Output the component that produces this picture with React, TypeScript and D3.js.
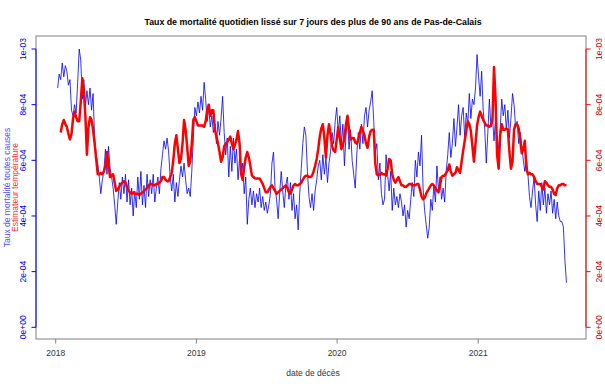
import * as d3 from "d3";

// Série quotidienne lissée sur 7 jours, valeurs en unités de 1e-4, un point tous les 4 jours
const tauxStart = "2018-01-06";
const estimStart = "2018-01-14";
const stepDays = 4;

const tauxMortalite = [
  8.6, 9.1, 8.9, 9.5, 9.0, 9.4, 9.2, 8.7, 8.9, 7.8,
  7.6, 8.0, 7.7, 8.8, 10.0, 9.6, 8.2, 8.9, 7.9, 8.5,
  8.0, 8.6, 7.8, 8.4, 6.8, 6.2, 5.9, 5.4, 4.8, 5.3,
  5.6, 6.4, 5.5, 6.5, 5.7, 5.4, 5.0, 4.4, 3.7, 4.5,
  5.2, 4.6, 5.4, 4.8, 5.5, 4.5, 5.3, 4.4, 5.0, 4.0,
  4.9, 4.3, 5.4, 4.6, 5.6, 4.4, 5.1, 4.3, 5.5, 4.7,
  5.3, 4.8, 5.5, 4.5, 5.0, 5.4, 4.8, 5.7, 6.2, 6.7,
  6.4, 6.8, 6.3, 5.4, 4.9, 5.5, 4.5, 5.2, 4.7, 5.3,
  5.8, 5.4, 5.9, 5.3, 4.8, 5.0, 4.7, 5.6, 6.8, 7.9,
  7.6, 8.1, 7.7, 8.3, 7.8, 8.8, 8.2, 7.4, 7.9, 7.2,
  7.6, 7.0, 7.3, 6.6, 7.4, 6.9, 7.5, 8.3, 7.0, 6.2,
  6.8, 5.4, 6.5, 5.6, 6.8, 5.9, 6.4, 5.3, 6.1, 5.5,
  5.9, 4.8, 5.4, 3.7, 4.6, 5.0, 4.4, 4.9, 4.3, 4.8,
  4.5, 5.0, 4.3, 4.7, 4.2, 4.5, 4.1, 4.4, 4.8, 5.9,
  6.3, 5.0, 4.6, 3.9, 4.8, 5.6, 4.9, 4.3, 5.1, 5.4,
  4.6, 5.2, 4.2, 4.8, 3.9, 4.4, 3.5, 4.8, 5.7, 6.6,
  7.2, 6.9, 5.6, 4.7, 4.3, 4.8, 4.2, 4.9, 5.3, 5.8,
  6.0, 5.3, 6.2, 5.5, 6.1, 5.2, 5.9, 6.3, 7.0, 6.6,
  7.4, 7.9, 7.0, 7.6, 6.6, 7.3, 5.8, 6.9, 7.5, 6.4,
  7.1, 6.0, 5.5, 5.0, 6.2, 7.0, 6.4, 7.3, 6.6, 7.6,
  7.9, 7.2, 7.8, 8.1, 8.5, 7.4, 6.3, 6.6, 5.3, 5.9,
  4.8, 4.4, 4.6, 6.2, 5.5, 4.9, 5.6, 4.2, 5.0, 4.4,
  4.7, 4.3, 4.8, 4.5, 4.0, 4.4, 3.6, 4.2, 3.9, 4.6,
  5.2, 4.7, 6.0, 5.4, 6.3, 5.8, 6.9, 5.0, 4.2, 3.7,
  3.2, 3.6, 4.6, 4.2, 5.1, 4.5, 5.8, 4.9, 5.4, 4.6,
  5.0, 4.5, 5.6, 6.2, 7.0, 6.1, 6.6, 7.5, 6.5, 7.2,
  8.0, 6.9, 7.6, 7.9, 6.8, 7.7, 7.3, 8.4, 7.5, 8.2,
  8.0, 8.6, 9.8, 9.0, 8.3, 9.2, 7.8, 7.1, 5.9, 7.0,
  8.2, 7.2, 7.6, 6.7, 7.5, 6.9, 6.4, 7.1, 8.2, 7.6,
  8.0, 7.1, 7.8, 6.8, 7.5, 8.4, 8.0, 7.2, 7.4, 6.6,
  7.0, 6.5, 6.0, 5.6, 6.1, 5.5, 4.7, 4.3, 4.9, 5.4,
  4.4, 3.8, 4.9, 4.2, 5.2, 4.4, 5.0, 4.1, 4.8, 4.4,
  4.9, 4.1, 4.6, 3.9, 4.5, 4.0, 3.8, 3.8, 3.6, 2.4, 1.6,
];

const estimateurTemperature = [
  7.0, 7.3, 7.45, 7.3, 7.2, 6.95, 6.75, 6.95, 7.5, 7.75,
  7.55, 7.4, 7.4, 8.1, 8.95, 8.5, 7.6, 6.2, 7.2, 7.55,
  7.45, 7.1, 6.6, 6.05, 5.5, 5.5, 5.55, 5.5, 5.6, 5.8,
  6.3, 5.85, 5.4, 5.45, 5.5, 5.2, 4.9, 4.95, 5.05, 5.15,
  5.2, 5.25, 5.2, 5.05, 4.9, 4.85, 4.8, 4.85, 4.8, 4.8,
  4.8, 4.75, 4.8, 4.85, 4.9, 4.95, 5.0, 5.1, 5.15, 5.15,
  5.1, 5.1, 5.15, 5.15, 5.2, 5.25, 5.4, 5.4, 5.3, 5.25,
  5.25, 5.4, 5.55, 6.0, 6.6, 6.9, 6.4, 5.9, 6.05, 6.6,
  7.45, 7.1, 6.5, 5.8, 5.95, 6.6, 7.45, 7.55, 7.4, 7.25,
  7.25, 7.25, 7.25, 7.2, 7.4, 7.8, 8.0, 7.6, 7.8, 7.8,
  7.1, 6.85, 6.6, 6.3, 5.95, 6.1, 6.5, 6.6, 6.65, 6.75,
  6.85, 6.6, 6.4, 6.55, 6.75, 7.05, 6.6, 5.5, 5.3, 5.75,
  6.1, 6.3, 6.1, 5.8, 5.45, 5.4, 5.35, 5.35, 5.35, 5.35,
  5.25, 5.15, 5.0, 4.85, 4.85, 4.95, 5.05, 5.1, 5.0, 4.9,
  4.8, 4.85, 4.9, 4.95, 5.0, 5.05, 5.1, 5.0, 4.85, 4.8,
  4.95, 5.1, 5.15, 5.1, 5.1, 5.15, 5.2, 5.3, 5.4, 5.45,
  5.45, 5.4, 5.4, 5.45, 5.6, 5.8, 6.05, 6.4, 6.85, 7.15,
  7.3, 6.8, 6.1, 6.9, 7.3, 6.95, 6.5, 6.35, 6.3, 6.75,
  7.2, 6.8, 6.4, 6.55, 6.8, 7.3, 7.6, 7.1, 6.75, 6.8,
  6.8, 6.65, 6.6, 6.75, 7.0, 7.2, 7.05, 6.9, 6.6, 6.45,
  6.85, 7.05, 7.1, 7.1, 5.9, 5.5, 5.45, 5.5, 5.55, 5.5,
  5.5, 5.45, 5.7, 6.05, 6.0, 5.5, 5.3, 5.2, 5.3, 5.4,
  5.25, 5.1, 5.1, 5.05, 5.05, 5.1, 5.15, 5.15, 5.1, 5.1,
  5.1, 5.15, 5.15, 4.95, 4.7, 4.6, 4.65, 4.8, 4.9, 5.0,
  5.1, 5.15, 5.1, 5.0, 4.9, 4.85, 5.1, 5.4, 5.45, 5.45,
  5.55, 5.65, 5.85, 5.6, 5.45, 5.5, 5.55, 5.75, 5.65, 5.55,
  5.95, 6.35, 6.7, 7.05, 7.4, 7.3, 7.05, 6.5, 5.95, 6.6,
  7.25, 7.55, 7.75, 7.6, 7.45, 7.35, 7.25, 7.25, 7.2, 7.25,
  7.45, 9.35, 8.2, 6.2, 5.7, 6.9, 7.3, 7.1, 7.1, 7.15,
  7.1, 6.3, 5.7, 5.95, 7.1, 7.3, 7.3, 7.15, 6.75, 6.25,
  6.4, 6.7, 5.7, 5.5, 5.55, 5.5, 5.5, 5.4, 5.25, 5.15,
  5.15, 5.15, 5.05, 4.95, 5.25, 5.2, 5.1, 5.05, 5.05, 4.95,
  4.8, 4.75, 5.0, 5.1, 5.1, 5.15, 5.15, 5.1, 5.1,
];

const yearTicks = ["2018", "2019", "2020", "2021"];
const yTicks = [0, 2e-4, 4e-4, 6e-4, 8e-4, 1e-3];
const yTickLabels = ["0e+00", "2e-04", "4e-04", "6e-04", "8e-04", "1e-03"];

const title = "Taux de mortalité quotidien lissé sur 7 jours des plus de 90 ans de Pas-de-Calais";
const xTitle = "date de décès";
const yTitleBlue = "Taux de mortalité toutes causes";
const yTitleRed = "Estimateur température";

const W = 605;
const H = 384;
const box = { left: 36, right: 586, top: 36, bottom: 339 };
const font = "'Liberation Sans', Arial, sans-serif";

type Pt = { date: Date; value: number };

function toSeries(start: string, values: number[]): Pt[] {
  const d0 = d3.timeParse("%Y-%m-%d")(start) as Date;
  return values.map((v, i) => ({ date: d3.timeDay.offset(d0, i * stepDays), value: v * 1e-4 }));
}

export default function App() {
  const taux = toSeries(tauxStart, tauxMortalite);
  const estim = toSeries(estimStart, estimateurTemperature);
  const parseYear = d3.timeParse("%Y");

  const x = d3
    .scaleTime()
    .domain([parseYear("2018") as Date, parseYear("2021") as Date])
    .range([55.7, 478.2]);
  const y = d3.scaleLinear().domain([0, 1e-3]).range([327.3, 49]);

  const line = d3
    .line<Pt>()
    .x((d) => x(d.date))
    .y((d) => y(d.value));

  const yMid = (box.top + box.bottom) / 2;
  const xMid = (box.left + box.right) / 2;

  return (
    <svg
      width={W}
      height={H}
      style={{ position: "absolute", left: 0, top: 0, background: "#fff" }}
      fontFamily={font}
    >
      <text x={xMid + 2} y={25} textAnchor="middle" fontSize={8.8} fontWeight="bold" fill="#000">
        {title}
      </text>

      <path d={line(taux) ?? ""} fill="none" stroke="#0000ff" strokeOpacity={0.8} strokeWidth={1} />
      <path d={line(estim) ?? ""} fill="none" stroke="#ff0000" strokeWidth={2.5} strokeLinejoin="round" />

      <rect
        x={box.left}
        y={box.top}
        width={box.right - box.left}
        height={box.bottom - box.top}
        fill="none"
        stroke="#808080"
        strokeWidth={1}
      />

      {/* axe gauche, bleu */}
      <line x1={box.left} x2={box.left} y1={y(1e-3)} y2={y(0)} stroke="#0000ff" />
      {yTicks.map((t, i) => (
        <g key={"l" + i}>
          <line x1={box.left - 4.5} x2={box.left} y1={y(t)} y2={y(t)} stroke="#0000ff" />
          <text
            transform={`translate(26,${y(t)}) rotate(-90)`}
            textAnchor="middle"
            fontSize={8.5}
            fill="#0000ff"
          >
            {yTickLabels[i]}
          </text>
        </g>
      ))}

      {/* axe droit, rouge */}
      <line x1={box.right} x2={box.right} y1={y(1e-3)} y2={y(0)} stroke="#ff0000" />
      {yTicks.map((t, i) => (
        <g key={"r" + i}>
          <line x1={box.right} x2={box.right + 4.5} y1={y(t)} y2={y(t)} stroke="#ff0000" />
          <text
            transform={`translate(602,${y(t)}) rotate(-90)`}
            textAnchor="middle"
            fontSize={8.5}
            fill="#cc0000"
          >
            {yTickLabels[i]}
          </text>
        </g>
      ))}

      {/* axe des dates */}
      {yearTicks.map((yr) => {
        const px = x(parseYear(yr) as Date);
        return (
          <g key={yr}>
            <line x1={px} x2={px} y1={box.bottom} y2={box.bottom + 4.5} stroke="#808080" />
            <text x={px} y={356} textAnchor="middle" fontSize={8.5} fill="#333">
              {yr}
            </text>
          </g>
        );
      })}
      <text x={xMid + 2} y={376} textAnchor="middle" fontSize={8.5} fill="#333">
        {xTitle}
      </text>

      <text transform={`translate(9.5,${yMid}) rotate(-90)`} textAnchor="middle" fontSize={8.5} fill="#5050ff">
        {yTitleBlue}
      </text>
      <text transform={`translate(18,${yMid}) rotate(-90)`} textAnchor="middle" fontSize={8.5} fill="#ff3030">
        {yTitleRed}
      </text>
    </svg>
  );
}
